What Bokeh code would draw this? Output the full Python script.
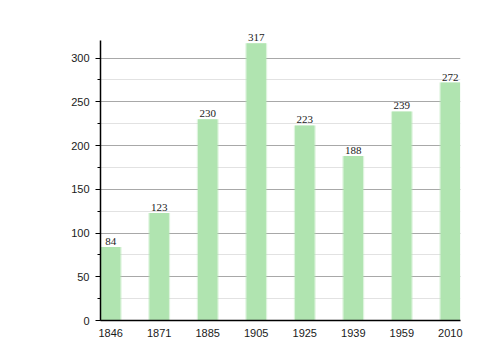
from bokeh.plotting import figure
from bokeh.models import ColumnDataSource, Range1d, FixedTicker, SingleIntervalTicker, LabelSet
from bokeh.embed import file_html
from bokeh.resources import INLINE

years = ["1846", "1871", "1885", "1905", "1925", "1939", "1959", "2010"]
population = [84, 123, 230, 317, 223, 188, 239, 272]

xs = list(range(len(years)))
src = ColumnDataSource(dict(x=xs, y=population, label=[str(v) for v in population]))

Y_TOP = 320
p = figure(width=500, height=360, output_backend="svg", toolbar_location=None,
           x_range=Range1d(-0.21, 7.21), y_range=Range1d(0, 298 / (280 / Y_TOP)),
           min_border_left=100, min_border_right=40, min_border_top=22, min_border_bottom=40)
p.outline_line_color = None
p.background_fill_color = "white"

# soft edge
p.vbar(x="x", top="y", width=0.45, bottom=0, source=src, fill_color="#b4e6b4", fill_alpha=0.45, line_color=None)
p.vbar(x="x", top="y", width=0.40, bottom=0, source=src, fill_color="#b0e4b0", line_color=None)

labels = LabelSet(x="x", y="y", text="label", source=src, text_align="center", text_baseline="bottom",
                  y_offset=2, text_font="Liberation Sans", text_font_size="11px", text_color="#1a1a1a")
p.add_layout(labels)

p.xaxis.ticker = FixedTicker(ticks=xs)
p.xaxis.major_label_overrides = {i: y for i, y in enumerate(years)}
p.xaxis.major_tick_line_color = None
p.xaxis.minor_tick_line_color = None
p.xaxis.axis_line_color = "black"
p.xaxis.axis_line_width = 1.5
p.xaxis.major_label_text_font = "Liberation Sans"
p.xaxis.major_label_text_font_size = "11px"
p.xaxis.major_label_text_color = "#1a1a1a"
p.xaxis.major_label_standoff = 2

p.yaxis.ticker = SingleIntervalTicker(interval=50, num_minor_ticks=2)
p.yaxis.bounds = (0, Y_TOP)
p.yaxis.axis_line_color = "black"
p.yaxis.axis_line_width = 1.5
p.yaxis.major_tick_line_color = "black"
p.yaxis.major_tick_out = 5
p.yaxis.major_tick_in = 0
p.yaxis.minor_tick_line_color = "black"
p.yaxis.minor_tick_out = 3
p.yaxis.minor_tick_in = 0
p.yaxis.major_label_text_font = "Liberation Sans"
p.yaxis.major_label_text_font_size = "11px"
p.yaxis.major_label_text_color = "#1a1a1a"
p.yaxis.major_label_standoff = 6

p.xgrid.grid_line_color = None
p.ygrid.bounds = (0, Y_TOP)
p.ygrid.grid_line_color = "#a8a8a8"
p.ygrid.grid_line_width = 1
p.ygrid.minor_grid_line_color = "#e2e2e2"

open("out.html", "w").write(file_html(p, INLINE))
